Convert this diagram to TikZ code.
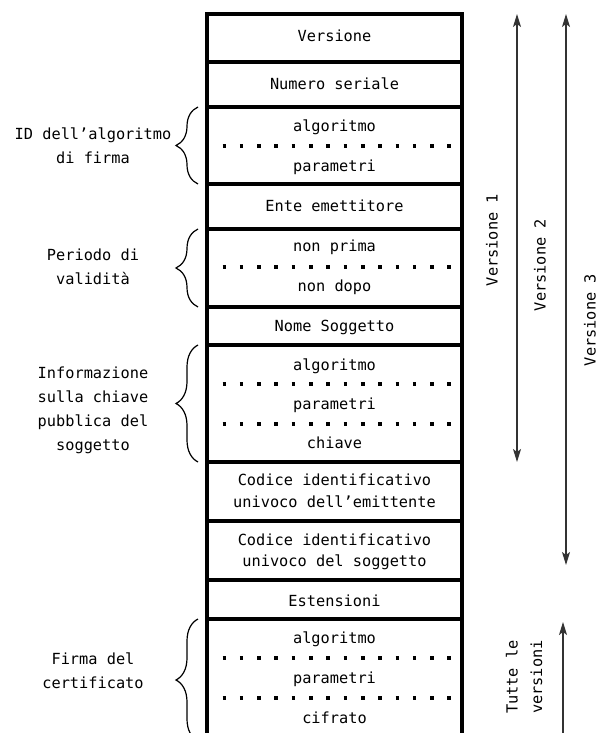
\documentclass[tikz,border=0pt]{standalone}
\usepackage{fontspec}
\setmonofont{DejaVu Sans Mono}
\usetikzlibrary{arrows.meta,decorations.pathreplacing}

\tikzset{
  field/.style={font=\ttfamily\fontsize{15.3}{21.5}\selectfont, align=center, inner sep=0pt},
  side/.style={field, font=\ttfamily\fontsize{15.3}{24}\selectfont},
  box/.style={line width=3.6pt},
  sep/.style={line width=3.6pt, dash pattern=on 3.6pt off 13.7pt},
  brc/.style={decorate, decoration={brace, amplitude=22pt}, line width=1.2pt},
  verspan/.style={line width=1.3pt, black!80,
    {Stealth[length=13pt,width=8pt,inset=3pt]}-{Stealth[length=13pt,width=8pt,inset=3pt]}}
}

\begin{document}
\begin{tikzpicture}[x=1pt, y=-1pt]
\useasboundingbox (0,0) rectangle (609,733);
\clip (0,0) rectangle (609,733);

% fields of the certificate
\foreach \ya/\yb in {14/62, 62/107, 107/184, 184/229, 229/307, 307/345,
                     345/462, 462/521, 521/580, 580/619, 619/741}
  \draw[box] (207,\ya) rectangle (462,\yb);
\foreach \y in {146, 267, 384, 424, 658, 698}
  \draw[sep] (205.2,\y) -- (460,\y);

\node[field] (ver)   at (334.5,36)  {Versione};
\node[field] (ser)   at (334.5,84)  {Numero seriale};
\node[field] (alg1)  at (334.5,127) {algoritmo};
\node[field] (par1)  at (334.5,167) {parametri};
\node[field] (ente)  at (334.5,206) {Ente emettitore};
\node[field] (prima) at (334.5,247) {non prima};
\node[field] (dopo)  at (334.5,287) {non dopo};
\node[field] (nome)  at (334.5,327) {Nome Soggetto};
\node[field] (alg2)  at (334.5,366) {algoritmo};
\node[field] (par2)  at (334.5,405) {parametri};
\node[field] (key)   at (334.5,443) {chiave};
\node[field] (idem)  at (334.5,491) {Codice identificativo\\univoco dell’emittente};
\node[field] (idsog) at (334.5,552) {Codice identificativo\\univoco del soggetto};
\node[field] (est)   at (334.5,601) {Estensioni};
\node[field] (alg3)  at (334.5,639) {algoritmo};
\node[field] (par3)  at (334.5,679) {parametri};
\node[field] (cif)   at (334.5,718) {cifrato};

% braces and their labels
\draw[brc] (198,184) -- (198,107);
\draw[brc] (198,307) -- (198,229);
\draw[brc] (198,462) -- (198,345);
\draw[brc] (198,741) -- (198,619);
\node[side] (lfirma) at (93,146) {ID dell’algoritmo\\di firma};
\node[side] (lval)   at (93,267) {Periodo di\\validità};
\node[side] (lkey)   at (93,410) {Informazione\\sulla chiave\\pubblica del\\soggetto};
\node[side] (lcert)  at (93,671) {Firma del\\certificato};

% versions
\coordinate (v1a) at (517,14);  \coordinate (v1b) at (517,462);
\coordinate (v2a) at (566,14);  \coordinate (v2b) at (566,565);
\coordinate (v3a) at (614,14);  \coordinate (v3b) at (614,617);
\coordinate (tva) at (563,622); \coordinate (tvb) at (563,760);
\draw[verspan] (v1a) -- (v1b);
\draw[verspan] (v2a) -- (v2b);
\draw[verspan] (v3a) -- (v3b);
\draw[verspan] (tva) -- (tvb);
\node[field, rotate=90] (lv1) at (492,240) {Versione 1};
\node[field, rotate=90] (lv2) at (540,265) {Versione 2};
\node[field, rotate=90] (lv3) at (590,320) {Versione 3};
\node[field, rotate=90] (ltv) at (524,677) {Tutte le\\[3pt]versioni};
\end{tikzpicture}
\end{document}
